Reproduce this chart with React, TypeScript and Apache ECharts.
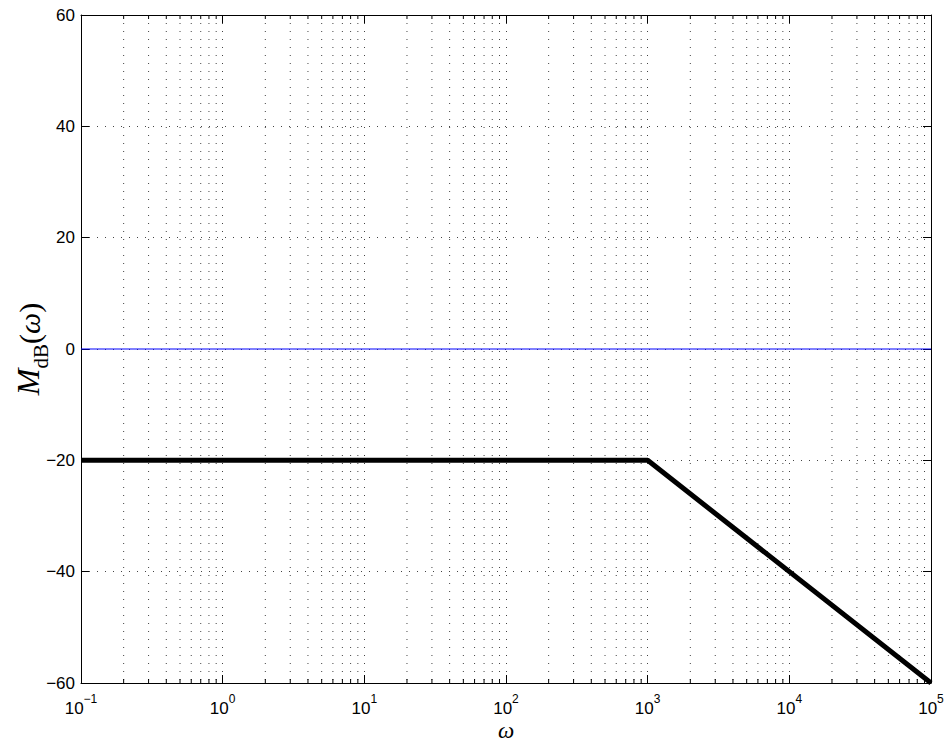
import React, { useEffect, useRef } from "react";
import * as echarts from "echarts";

const xMin = 0.1;
const xMax = 1e5;
const yTicks = [-60, -40, -20, 0, 20, 40, 60];
const zeroLine: [number, number][] = [
  [0.1, 0],
  [1e5, 0],
];
const asymptote: [number, number][] = [
  [0.1, -20],
  [1000, -20],
  [1e5, -60],
];
const minorMultipliers = [2, 3, 4, 5, 6, 7, 8, 9];
const decades = [-1, 0, 1, 2, 3, 4];

const minorValues: number[] = [];
decades.forEach((d) => minorMultipliers.forEach((m) => minorValues.push(m * Math.pow(10, d))));

const FONT = "'Liberation Sans', Arial, Helvetica, sans-serif";
const SERIF = "'Liberation Serif', 'DejaVu Serif', serif";

export default function App() {
  const ref = useRef<HTMLDivElement>(null);
  useEffect(() => {
    document.body.style.margin = "0";
    const chart = echarts.init(ref.current!, null, { renderer: "svg" });
    const dotted = { color: "#444", width: 1, type: [1, 7] as number[] };
    const xCommon = {
      type: "log" as const,
      logBase: 10,
      min: xMin,
      max: xMax,
      splitNumber: 6,
      axisLine: { show: true, onZero: false, lineStyle: { color: "#000", width: 1 } },
      axisTick: { show: true, inside: true, length: 8, lineStyle: { color: "#000" } },
      minorTick: { show: false },
    };
    const yCommon = {
      type: "value" as const,
      min: yTicks[0],
      max: yTicks[yTicks.length - 1],
      interval: 20,
      axisLine: { show: true, lineStyle: { color: "#000", width: 1 } },
      axisTick: { show: true, inside: true, length: 8, lineStyle: { color: "#000" } },
    };
    chart.setOption({
      animation: false,
      backgroundColor: "#fff",
      grid: { left: 81, right: 15, top: 15, bottom: 59, containLabel: false, outerBoundsMode: "none" },
      xAxis: [
        {
          ...xCommon,
          position: "bottom",
          name: "ω",
          nameLocation: "middle",
          nameGap: 37,
          nameMoveOverlap: false,
          nameTextStyle: { fontFamily: SERIF, fontStyle: "italic", fontSize: 23, color: "#000", lineHeight: 20 },
          axisLabel: {
            margin: 10,
            formatter: (v: number) => {
              const e = Math.round(Math.log10(v));
              return `{b|10}{s|${e < 0 ? "−" + -e : e}}`;
            },
            rich: {
              b: { fontFamily: FONT, fontSize: 17, color: "#000", lineHeight: 24, verticalAlign: "bottom" },
              s: { fontFamily: FONT, fontSize: 12, color: "#000", lineHeight: 12, verticalAlign: "top" },
            },
          },
          splitLine: { show: true, lineStyle: dotted },
        },
        {
          ...xCommon,
          position: "top",
          axisLabel: { show: false },
          splitLine: { show: false },
        },
      ],
      yAxis: [
        {
          ...yCommon,
          position: "left",
          name: "{m|M}{d|dB}{p|(}{w|ω}{p|)}",
          nameLocation: "middle",
          nameRotate: 90,
          nameGap: 37,
          nameMoveOverlap: false,
          nameTextStyle: {
            rich: {
              m: { fontFamily: SERIF, fontStyle: "italic", fontSize: 32, color: "#000", lineHeight: 34, verticalAlign: "bottom" },
              d: { fontFamily: SERIF, fontSize: 21, color: "#000", lineHeight: 34, verticalAlign: "bottom", padding: [0, 0, -7, 0] },
              p: { fontFamily: SERIF, fontSize: 30, color: "#000", lineHeight: 34, verticalAlign: "bottom" },
              w: { fontFamily: SERIF, fontStyle: "italic", fontSize: 30, color: "#000", lineHeight: 34, verticalAlign: "bottom" },
            },
          },
          axisLabel: {
            margin: 6,
            fontFamily: FONT,
            fontSize: 17,
            color: "#000",
            formatter: (v: number) => String(v).replace("-", "−"),
          },
          splitLine: { show: true, lineStyle: dotted },
        },
        {
          ...yCommon,
          position: "right",
          axisLabel: { show: false },
          splitLine: { show: false },
        },
      ],
      series: [
        {
          type: "custom",
          xAxisIndex: 0,
          yAxisIndex: 0,
          silent: true,
          z: 1,
          data: minorValues.map((v) => [v, 0]),
          renderItem: (params: any, api: any) => {
            const x = api.value(0);
            const top = api.coord([x, yTicks[yTicks.length - 1]]);
            const bot = api.coord([x, yTicks[0]]);
            return {
              type: "group",
              children: [
                {
                  type: "line",
                  shape: { x1: top[0], y1: top[1], x2: bot[0], y2: bot[1] },
                  style: { stroke: "#444", lineWidth: 1, lineDash: [1, 7] },
                },
                {
                  type: "line",
                  shape: { x1: bot[0], y1: bot[1], x2: bot[0], y2: bot[1] - 4 },
                  style: { stroke: "#000", lineWidth: 1 },
                },
                {
                  type: "line",
                  shape: { x1: top[0], y1: top[1], x2: top[0], y2: top[1] + 4 },
                  style: { stroke: "#000", lineWidth: 1 },
                },
              ],
            };
          },
        },
        {
          type: "line",
          xAxisIndex: 0,
          yAxisIndex: 0,
          data: zeroLine,
          showSymbol: false,
          symbol: "none",
          lineStyle: { color: "#0000ff", width: 1 },
          z: 3,
        },
        {
          type: "line",
          xAxisIndex: 0,
          yAxisIndex: 0,
          data: asymptote,
          showSymbol: false,
          symbol: "none",
          lineStyle: { color: "#000", width: 5 },
          z: 4,
        },
      ],
    });
    return () => chart.dispose();
  }, []);
  return <div ref={ref} style={{ width: 946, height: 742 }} />;
}
